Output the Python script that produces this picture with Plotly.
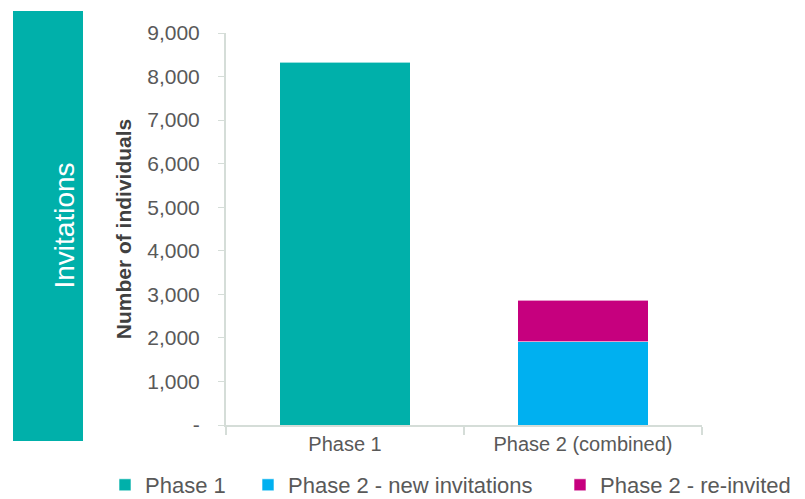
import plotly.graph_objects as go

# Invitation counts by phase
categories = ["Phase 1", "Phase 2 (combined)"]
phase1_values = [8330, None]
phase2_new_values = [None, 1910]
phase2_reinvited_values = [None, 960]

series_names = ["Phase 1", "Phase 2 - new invitations", "Phase 2 - re-invited"]
series_colors = ["#00B0AA", "#00B0F0", "#C6007E"]

y_tick_values = [0, 1000, 2000, 3000, 4000, 5000, 6000, 7000, 8000, 9000]
y_tick_labels = ["-", "1,000", "2,000", "3,000", "4,000", "5,000",
                 "6,000", "7,000", "8,000", "9,000"]

W, H = 805, 499
ML, MR, MT, MB = 226, 103, 33, 74
PW, PH = W - ML - MR, H - MT - MB


def px_x(p):
    return (p - ML) / PW


def px_y(p):
    return (H - MB - p) / PH


AXIS_COLOR = "#D5DDD8"
TEXT_COLOR = "#595959"
FONT = "Liberation Sans, Arial, sans-serif"

# one legend box per series, laid out in a row under the chart
legend_ids = ["legend", "legend2", "legend3"]
legend_left_px = [105, 248, 560]

fig = go.Figure()
for name, vals, color, lid in zip(series_names,
                                  [phase1_values, phase2_new_values, phase2_reinvited_values],
                                  series_colors, legend_ids):
    fig.add_trace(go.Bar(
        x=categories, y=vals, name=name, width=0.55, legend=lid,
        marker=dict(color=color, line=dict(color="rgba(255,255,255,0.6)", width=1)),
    ))

legend_layouts = {}
for lid, left in zip(legend_ids, legend_left_px):
    legend_layouts[lid] = dict(
        orientation="h", xref="container", yref="container",
        x=left / W, xanchor="left", y=(H - 485) / H, yanchor="middle",
        font=dict(size=22, color=TEXT_COLOR), bgcolor="rgba(0,0,0,0)",
    )

# Side panel with the section label
fig.add_shape(type="rect", xref="paper", yref="paper",
              x0=px_x(13), x1=px_x(83), y0=px_y(441), y1=px_y(11),
              fillcolor="#00B0AA", line=dict(width=0), layer="below")
fig.add_annotation(xref="paper", yref="paper", x=px_x(46), y=px_y(226),
                   text="Invitations", textangle=-90, showarrow=False,
                   font=dict(family=FONT, size=28, color="white"))

fig.update_layout(
    width=W, height=H,
    margin=dict(l=ML, r=MR, t=MT, b=MB, autoexpand=False),
    barmode="stack",
    plot_bgcolor="white", paper_bgcolor="white",
    font=dict(family=FONT, color=TEXT_COLOR),
    showlegend=True,
    xaxis=dict(showline=True, linecolor=AXIS_COLOR, linewidth=2,
               ticks="outside", tickson="boundaries", ticklen=8,
               tickcolor=AXIS_COLOR, tickwidth=2,
               tickfont=dict(size=20, color=TEXT_COLOR), showgrid=False),
    yaxis=dict(range=[0, 9000], tickvals=y_tick_values, ticktext=y_tick_labels,
               showline=True, linecolor=AXIS_COLOR, linewidth=2,
               ticks="outside", ticklen=6, tickcolor=AXIS_COLOR, tickwidth=1,
               ticklabelstandoff=14,
               tickfont=dict(size=21, color=TEXT_COLOR), showgrid=False,
               zeroline=False,
               title=dict(text="<b>Number of individuals</b>", standoff=10,
                          font=dict(size=21, color="#404040"))),
    **legend_layouts,
)

fig.write_html("out.html")
